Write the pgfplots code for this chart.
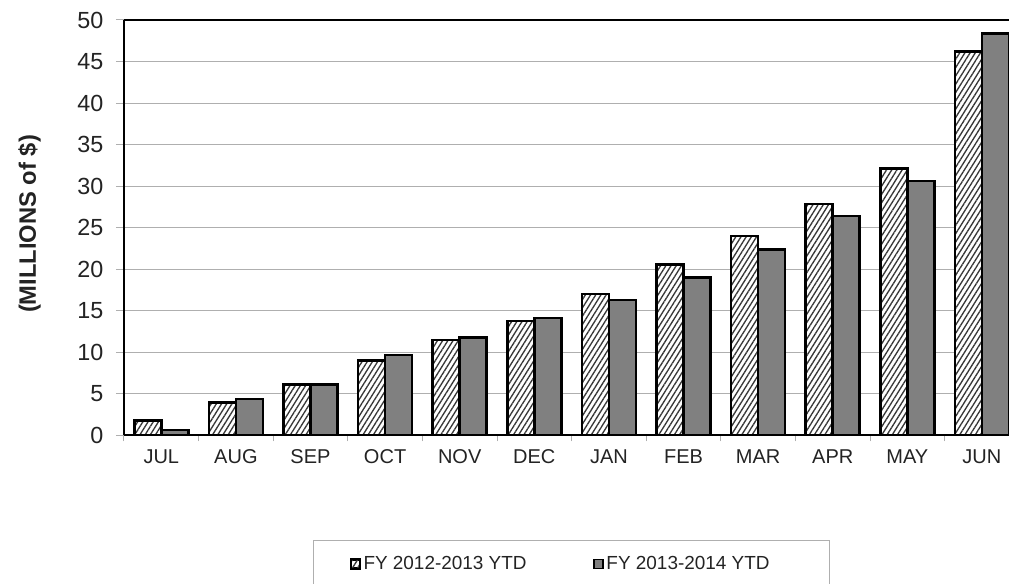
\documentclass[border=0pt]{standalone}
\usepackage{fontspec}
\setmainfont{Liberation Sans}
\usepackage{pgfplots}
\pgfplotsset{compat=1.18}
\usetikzlibrary{patterns.meta}

\definecolor{solidbar}{RGB}{128,128,128}
\definecolor{gridgray}{RGB}{175,175,175}
\definecolor{txt}{RGB}{35,35,35}

\pgfplotsset{
  sqlegend/.style={legend image code/.code={%
    \draw[##1, line width=1.1pt] (0pt,-3.4pt) rectangle (6.8pt,3.4pt);}},
}

\begin{document}
\begin{tikzpicture}
\useasboundingbox (0,0) rectangle (756.75pt,438pt);
\begin{axis}[
  at={(93pt,111.4pt)}, anchor=south west,
  scale only axis, width=663.75pt, height=311.6pt,
  xmin=-0.5, xmax=11.363, ymin=0, ymax=50,
  axis x line*=box, axis y line*=left,
  axis line style={line width=1.5pt, black},
  xtick pos=left, ytick pos=left,
  tick align=outside,
  major tick length=6pt,
  minor tick length=4.5pt,
  ytick={0,5,...,50},
  ymajorgrids,
  grid style={gridgray, line width=0.75pt},
  ytick style={gridgray, line width=0.75pt},
  xtick={0,...,11},
  xticklabels={JUL,AUG,SEP,OCT,NOV,DEC,JAN,FEB,MAR,APR,MAY,JUN},
  major x tick style={draw=none},
  minor xtick={-0.5,0.5,...,11.5},
  minor x tick style={gridgray, line width=0.75pt},
  /pgf/number format/assume math mode=true,
  yticklabel style={font=\fontsize{17.5}{20}\selectfont, text=txt, xshift=-6pt},
  xticklabel style={font=\fontsize{15}{18}\selectfont, text=txt, yshift=-1pt},
  ylabel={(MILLIONS of \$)},
  ylabel style={at={(axis description cs:-0.1068,0.509)}, anchor=center,
    font=\fontsize{17.8}{20}\selectfont\bfseries, text=txt},
  ybar, bar width=0.362,
  legend columns=2,
  legend cell align=left,
  legend style={draw=none, fill=none, inner sep=0pt,
    at={(0.2554,-0.309)}, anchor=west,
    font=\fontsize{14.2}{17}\selectfont, text=txt,
    /tikz/every even column/.append style={column sep=48pt}},
]
% FY 2012-2013, year to date
\addplot[bar shift=-0.181, draw=black, line width=1.9pt,
  preaction={fill=white},
  pattern={Lines[angle=58,distance=3.3pt,line width=1pt]},
  pattern color=black!78, sqlegend]
  coordinates {(0,1.78) (1,3.95) (2,6.15) (3,9.0) (4,11.5) (5,13.8)
               (6,17.0) (7,20.55) (8,24.0) (9,27.85) (10,32.1) (11,46.2)};
% FY 2013-2014, year to date
\addplot[bar shift=0.181, draw=black, line width=1.9pt,
  fill=solidbar, sqlegend]
  coordinates {(0,0.66) (1,4.4) (2,6.15) (3,9.7) (4,11.8) (5,14.15)
               (6,16.3) (7,19.0) (8,22.35) (9,26.4) (10,30.6) (11,48.4)};
\legend{FY 2012-2013 YTD, FY 2013-2014 YTD}
\end{axis}
% legend frame, open at the lower edge
\draw[gridgray, line width=0.75pt]
  (234.75pt,0pt) -- (234.75pt,32.25pt) -- (621.75pt,32.25pt) -- (621.75pt,0pt);
\end{tikzpicture}
\end{document}
